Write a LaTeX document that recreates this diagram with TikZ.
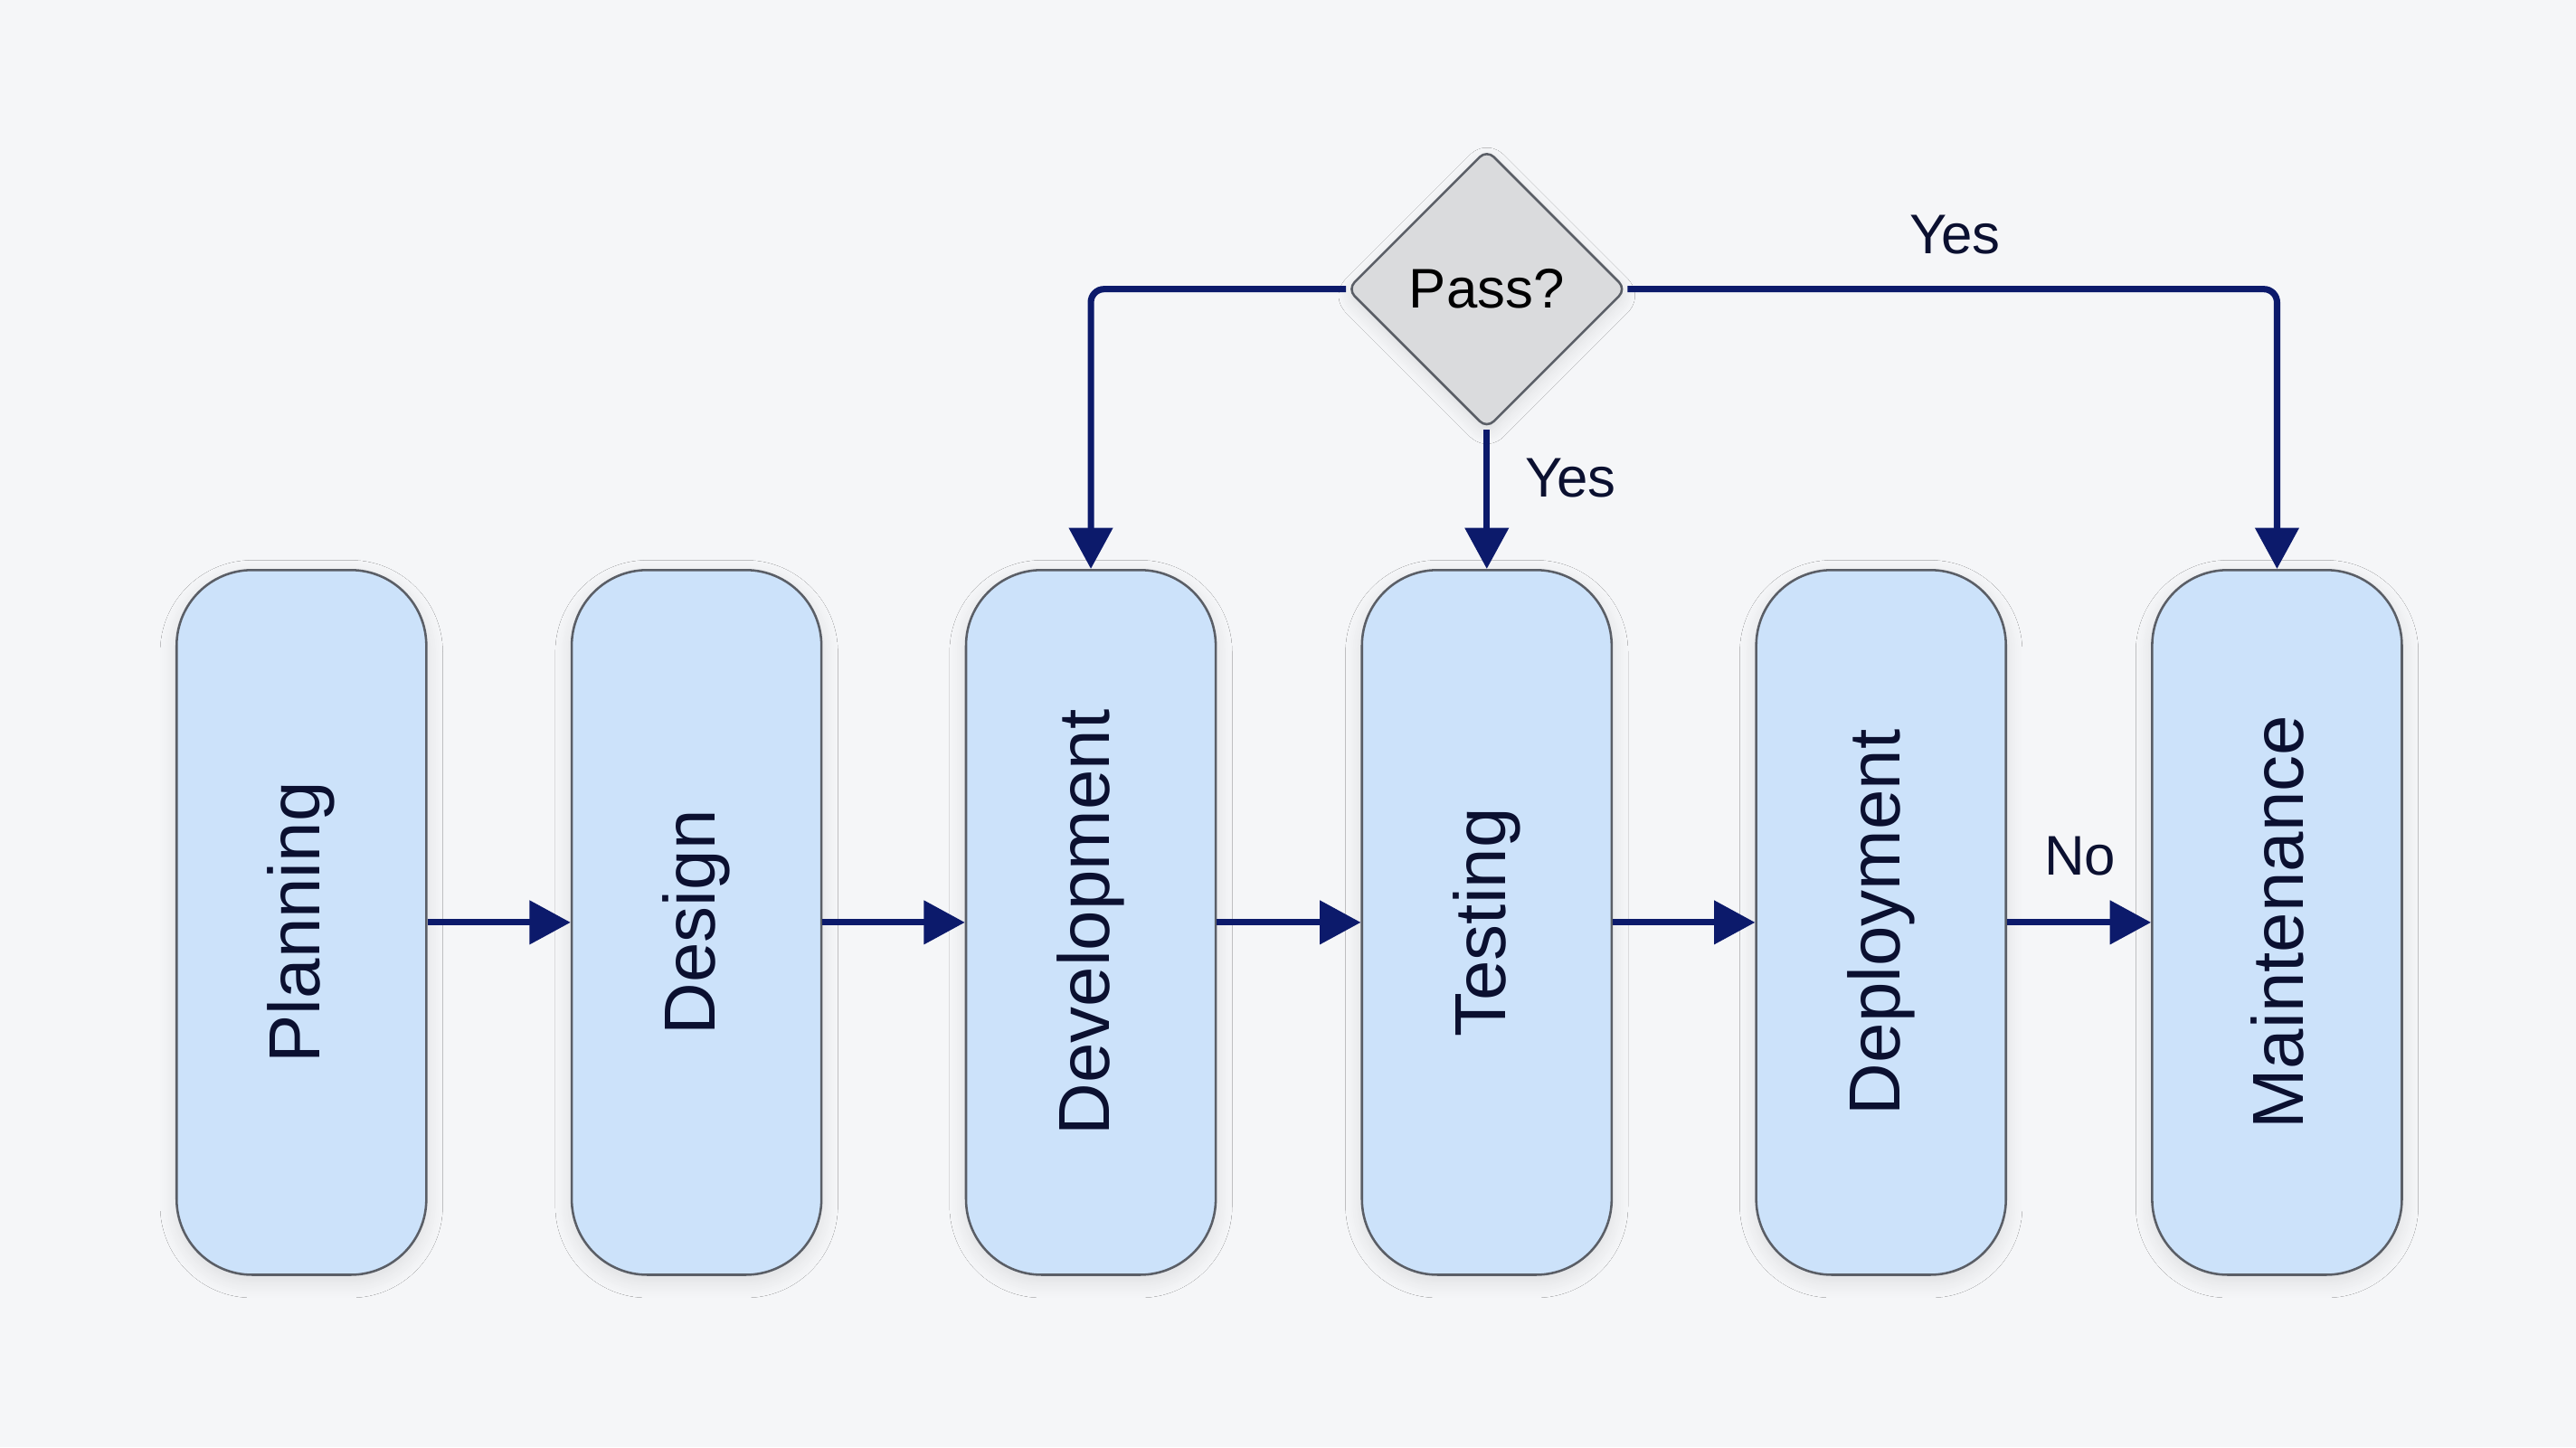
\documentclass[tikz,border=0pt]{standalone}
\usepackage{fontspec}
\setmainfont{Liberation Sans}
\usetikzlibrary{shapes.geometric,arrows.meta,shadows.blur}
\definecolor{bg}{HTML}{F5F6F8}
\definecolor{boxfill}{HTML}{CCE2FA}
\definecolor{boxline}{HTML}{5A5E66}
\definecolor{navy}{HTML}{0C1A6B}
\definecolor{dfill}{HTML}{DADBDD}
\definecolor{txt}{HTML}{0B1030}
\tikzset{
  x=1pt,y=1pt,
  stage/.style={rectangle, rounded corners=46pt, draw=boxline, line width=1.4pt, fill=boxfill,
    minimum width=152pt, minimum height=429pt, inner sep=0pt, text=txt,
    font=\fontsize{44}{50}\selectfont,
    blur shadow={shadow xshift=0pt, shadow yshift=-4pt, shadow blur radius=10pt, shadow blur steps=10, shadow opacity=10}},
  decision/.style={diamond, aspect=1, draw=boxline, line width=1.4pt, fill=dfill, rounded corners=6pt,
    minimum width=170pt, minimum height=170pt, inner sep=0pt, text=black,
    font=\fontsize{34}{40}\selectfont,
    blur shadow={shadow xshift=0pt, shadow yshift=-4pt, shadow blur radius=8pt, shadow blur steps=8, shadow opacity=10}},
  flow/.style={draw=navy, line width=3.9pt, -{Triangle[length=25pt,width=26pt]}, rounded corners=8pt},
  lbl/.style={text=txt, font=\fontsize{34}{40}\selectfont, inner sep=0pt}
}
\begin{document}
\begin{tikzpicture}
\fill[bg] (0,0) rectangle (1568,-880.9);
\useasboundingbox (0,0) rectangle (1568,-880.9);
\node[stage] (plan)  at (183.5,-561.5) {\rotatebox{90}{Planning}};
\node[stage] (design) at (424,-561.5) {\rotatebox{90}{Design}};
\node[stage] (dev)   at (664,-561.5) {\rotatebox{90}{Development}};
\node[stage] (test)  at (905,-561.5) {\rotatebox{90}{Testing}};
\node[stage] (dep)   at (1145,-561.5) {\rotatebox{90}{Deployment}};
\node[stage] (maint) at (1386,-561.5) {\rotatebox{90}{Maintenance}};
\node[decision] (pass) at (905,-176) {Pass?};
\draw[flow] (plan.east) -- (design.west);
\draw[flow] (design.east) -- (dev.west);
\draw[flow] (dev.east) -- (test.west);
\draw[flow] (test.east) -- (dep.west);
\draw[flow] (dep.east) -- (maint.west);
\draw[flow] (pass.west) -| (dev.north);
\draw[flow] (pass.east) -| (maint.north);
\draw[flow] (pass.south) -- (test.north);
\node[lbl] (yes1) at (1190,-143) {Yes};
\node[lbl] (yes2) at (956,-291) {Yes};
\node[lbl] (no)   at (1266,-521) {No};
\end{tikzpicture}
\end{document}
